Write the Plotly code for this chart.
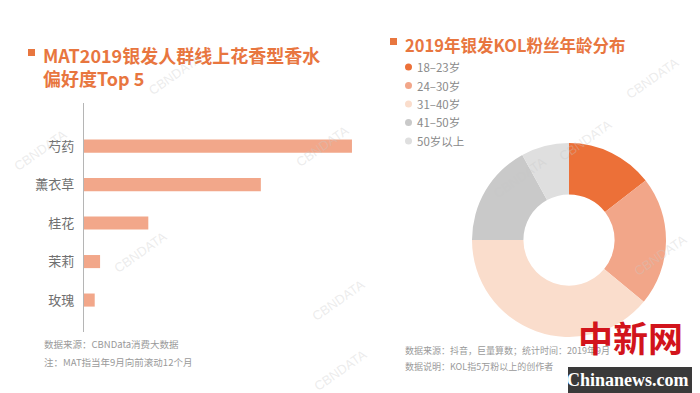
import plotly.graph_objects as go

# ---- data ----
flowers = ["芍药", "薰衣草", "桂花", "茉莉", "玫瑰"]
preference = [100, 66, 24, 6, 4]

age_groups = ["18~23岁", "24~30岁", "31~40岁", "41~50岁", "50岁以上"]
age_share = [14.5, 21.5, 39.0, 17.0, 8.0]
age_colors = ["#EC7038", "#F2A689", "#FADDCC", "#C9C9C9", "#DFDFDF"]

bar_color = "#F2A78A"
title_color = "#E8763F"
FONT = "Noto Sans CJK SC"

# page body adds an 8px margin; compensate so screen coords match the reference
OFF = 8
W, H = 700 - OFF, 393 - OFF
def px(x): return (x - OFF) / W
def py(y): return 1 - (y - OFF) / H

fig = go.Figure()

fig.add_trace(go.Bar(
    x=preference, y=flowers, orientation="h",
    marker=dict(color=bar_color, line=dict(width=0)),
    width=0.34, showlegend=False, hoverinfo="x+y",
    xaxis="x", yaxis="y",
))

fig.add_trace(go.Pie(
    labels=age_groups, values=age_share, sort=False,
    direction="clockwise", rotation=0, hole=0.47,
    marker=dict(colors=age_colors, line=dict(width=0)),
    textinfo="none", showlegend=False,
    domain=dict(x=[px(472), px(666)], y=[py(338), py(142)]),
))

annotations = []
shapes = []

# titles
annotations.append(dict(text="<b>MAT2019银发人群线上花香型香水<br>偏好度Top 5</b>",
                        x=px(41), y=py(40), xref="paper", yref="paper",
                        xanchor="left", yanchor="top", align="left", showarrow=False,
                        font=dict(family=FONT, size=18, color=title_color)))
shapes.append(dict(type="rect", xref="paper", yref="paper",
                   x0=px(28), x1=px(35), y0=py(49), y1=py(56),
                   fillcolor=title_color, line=dict(width=0)))
annotations.append(dict(text="<b>2019年银发KOL粉丝年龄分布</b>",
                        x=px(403), y=py(31), xref="paper", yref="paper",
                        xanchor="left", yanchor="top", align="left", showarrow=False,
                        font=dict(family=FONT, size=16.5, color=title_color)))
shapes.append(dict(type="rect", xref="paper", yref="paper",
                   x0=px(390), x1=px(397), y0=py(38), y1=py(45),
                   fillcolor=title_color, line=dict(width=0)))

# legend for donut
for i, (lab, col) in enumerate(zip(age_groups, age_colors)):
    yy = 67 + i * 18.5
    shapes.append(dict(type="circle", xref="paper", yref="paper",
                       x0=px(405), x1=px(412), y0=py(yy + 3.5), y1=py(yy - 3.5),
                       fillcolor=col, line=dict(width=0)))
    annotations.append(dict(text=lab.replace("~", "–"), x=px(415), y=py(yy),
                            xref="paper", yref="paper", xanchor="left", yanchor="middle",
                            showarrow=False,
                            font=dict(family=FONT, size=11.5, color="#8a8a8a")))

# footnotes
notes_left = ["数据来源：CBNData消费大数据", "注：MAT指当年9月向前滚动12个月"]
for i, t in enumerate(notes_left):
    annotations.append(dict(text=t, x=px(42), y=py(344 + i * 18), xref="paper", yref="paper",
                            xanchor="left", yanchor="middle", showarrow=False,
                            font=dict(family=FONT, size=9.5, color="#9a9a9a")))
notes_right = ["数据来源：抖音，巨量算数；统计时间：2019年9月", "数据说明：KOL指5万粉以上的创作者"]
for i, t in enumerate(notes_right):
    annotations.append(dict(text=t, x=px(403), y=py(350 + i * 16), xref="paper", yref="paper",
                            xanchor="left", yanchor="middle", showarrow=False,
                            font=dict(family=FONT, size=9, color="#9a9a9a")))

# faint watermarks
for (wx, wy) in [(175, 75), (40, 150), (322, 146), (140, 252), (338, 300), (652, 78),
                 (660, 255), (520, 178), (585, 140), (340, 370)]:
    annotations.append(dict(text="CBNDATA", x=px(wx), y=py(wy), xref="paper", yref="paper",
                            xanchor="center", yanchor="middle",
                            showarrow=False, textangle=-35,
                            font=dict(family="Liberation Sans", size=13, color="rgba(200,200,200,0.35)")))

# chinanews logo
shapes.append(dict(type="rect", xref="paper", yref="paper",
                   x0=px(568), x1=1, y0=0, y1=py(367),
                   fillcolor="#3a3a3a", line=dict(width=0)))
annotations.append(dict(text="<b>Chinanews.com</b>", x=px(628), y=py(380), xref="paper", yref="paper",
                        xanchor="center", yanchor="middle",
                        showarrow=False, font=dict(family="Liberation Sans Narrow", size=18, color="white")))
annotations.append(dict(text="<b>中新网</b>", x=px(630), y=py(336), xref="paper", yref="paper",
                        xanchor="center", yanchor="middle",
                        showarrow=False, font=dict(family=FONT, size=35, color="#D2141C")))

fig.update_layout(
    width=W, height=H, margin=dict(l=0, r=0, t=0, b=0),
    paper_bgcolor="white", plot_bgcolor="white",
    font=dict(family=FONT),
    xaxis=dict(domain=[px(84), px(360)], range=[0, 103], visible=False, fixedrange=True,
               automargin=False),
    yaxis=dict(domain=[py(332), py(103)], range=[4.83, -1.12], type="category",
               categoryorder="array", categoryarray=flowers, automargin=False,
               showline=True, linecolor="#b5b5b5", linewidth=1.2,
               showgrid=False, zeroline=False, ticks="", ticklen=0,
               tickfont=dict(family=FONT, size=13, color="#707070"), ticklabelstandoff=6),
    annotations=annotations, shapes=shapes,
)

fig.write_html("out.html")
